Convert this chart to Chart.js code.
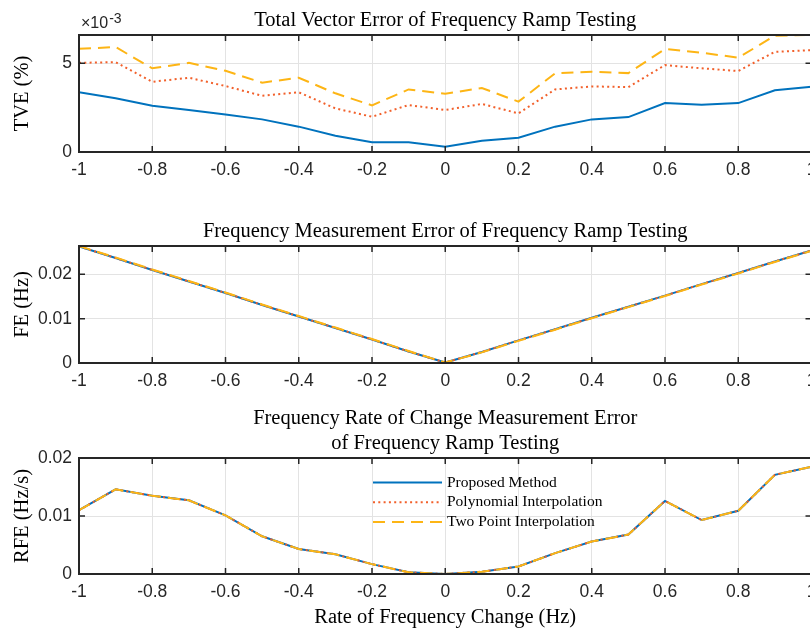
<!DOCTYPE html>
<html>
<head>
<meta charset="utf-8">
<script src="https://cdn.jsdelivr.net/npm/chart.js@4.4.1/dist/chart.umd.min.js"></script>
<style>
    html, body { margin: 0; padding: 0; background: #fff; overflow: hidden; }
    #wrap { position: relative; width: 810px; height: 630px; overflow: hidden; }
    #wrap canvas { position: absolute; left: 0; }
</style>
</head>
<body>
<div id="wrap">
    <canvas id="tveChart" width="830" height="187" style="top:0px"></canvas>
    <canvas id="feChart" width="830" height="198" style="top:200px"></canvas>
    <canvas id="rfeChart" width="830" height="230" style="top:400px"></canvas>
</div>
<script>
// rate of frequency change (Hz) on the x axis
const rateOfChange = [-1, -0.9, -0.8, -0.7, -0.6, -0.5, -0.4, -0.3, -0.2, -0.1, 0, 0.1, 0.2, 0.3, 0.4, 0.5, 0.6, 0.7, 0.8, 0.9, 1];
const xTicks = [-1, -0.8, -0.6, -0.4, -0.2, 0, 0.2, 0.4, 0.6, 0.8, 1];

// TVE (%)
const tveProposed   = [0.00337, 0.00303, 0.00261, 0.00237, 0.00212, 0.00184, 0.00143, 0.00092, 0.00055, 0.00055, 0.00030, 0.00064, 0.00081, 0.00143, 0.00184, 0.00197, 0.00276, 0.00267, 0.00276, 0.00348, 0.00368];
const tvePolynomial = [0.00503, 0.00507, 0.00396, 0.00419, 0.00372, 0.00317, 0.00337, 0.00246, 0.00199, 0.00265, 0.00237, 0.00271, 0.00218, 0.00353, 0.00370, 0.00366, 0.00490, 0.00472, 0.00457, 0.00565, 0.00575];
const tveTwoPoint   = [0.00582, 0.00592, 0.00472, 0.00503, 0.00458, 0.00391, 0.00419, 0.00331, 0.00263, 0.00353, 0.00329, 0.00361, 0.00284, 0.00444, 0.00453, 0.00445, 0.00581, 0.00560, 0.00532, 0.00656, 0.00661];
const tveTicks = [0, 0.005];

// FE (Hz)
const feProposed   = [0.0263, 0.0237, 0.0210, 0.0184, 0.0158, 0.0131, 0.0105, 0.0079, 0.0053, 0.0026, 0.0001, 0.0025, 0.0051, 0.0076, 0.0102, 0.0127, 0.0152, 0.0178, 0.0203, 0.0229, 0.0254];
const fePolynomial = [0.0263, 0.0237, 0.0210, 0.0184, 0.0158, 0.0131, 0.0105, 0.0079, 0.0053, 0.0026, 0.0001, 0.0025, 0.0051, 0.0076, 0.0102, 0.0127, 0.0152, 0.0178, 0.0203, 0.0229, 0.0254];
const feTwoPoint   = [0.0264, 0.0238, 0.0211, 0.0185, 0.0159, 0.0132, 0.0106, 0.0080, 0.0054, 0.0027, 0.0001, 0.0024, 0.0050, 0.0075, 0.0101, 0.0126, 0.0151, 0.0177, 0.0202, 0.0228, 0.0253];
const feTicks = [0, 0.01, 0.02];

// RFE (Hz/s)
const rfeProposed   = [0.0110, 0.0146, 0.0135, 0.0127, 0.0101, 0.0065, 0.0043, 0.0034, 0.0017, 0.0003, 0.0000, 0.0004, 0.0013, 0.0036, 0.0056, 0.0068, 0.0126, 0.0093, 0.0109, 0.0171, 0.0185];
const rfePolynomial = [0.0110, 0.0146, 0.0135, 0.0127, 0.0101, 0.0065, 0.0043, 0.0034, 0.0017, 0.0003, 0.0000, 0.0004, 0.0013, 0.0036, 0.0056, 0.0068, 0.0126, 0.0093, 0.0109, 0.0171, 0.0185];
const rfeTwoPoint   = [0.0110, 0.0146, 0.0135, 0.0127, 0.0101, 0.0065, 0.0043, 0.0034, 0.0017, 0.0003, 0.0000, 0.0004, 0.0013, 0.0036, 0.0056, 0.0068, 0.0126, 0.0093, 0.0109, 0.0171, 0.0185];
const rfeTicks = [0, 0.01, 0.02];

const seriesNames = ['Proposed Method', 'Polynomial Interpolation', 'Two Point Interpolation'];

const AXIS_COLOR = '#262626';
const SERIF = '"Liberation Serif", "Times New Roman", serif';
const SANS = '"Liberation Sans", Arial, sans-serif';

// MATLAB-like box, inward ticks, title, exponent and legend
const matlabAxes = {
    id: 'matlabAxes',
    afterDraw(chart, args, opts) {
        const { ctx, chartArea: a, scales } = chart;
        const tl = 6;
        ctx.save();
        ctx.strokeStyle = AXIS_COLOR;
        ctx.lineWidth = 1.5;
        ctx.beginPath();
        scales.x.ticks.forEach(t => {
            const px = scales.x.getPixelForValue(t.value);
            ctx.moveTo(px, a.bottom); ctx.lineTo(px, a.bottom - tl);
            ctx.moveTo(px, a.top); ctx.lineTo(px, a.top + tl);
        });
        scales.y.ticks.forEach(t => {
            const py = scales.y.getPixelForValue(t.value);
            ctx.moveTo(a.left, py); ctx.lineTo(a.left + tl, py);
            ctx.moveTo(a.right, py); ctx.lineTo(a.right - tl, py);
        });
        ctx.stroke();
        ctx.lineWidth = 2;
        ctx.strokeRect(a.left, a.top, a.right - a.left, a.bottom - a.top);

        // title lines
        const lines = opts.title || [];
        ctx.fillStyle = '#000';
        ctx.font = '20.5px ' + SERIF;
        ctx.textAlign = 'center';
        ctx.textBaseline = 'alphabetic';
        lines.forEach((s, i) => {
            ctx.fillText(s, (a.left + a.right) / 2, a.top - 9 - (lines.length - 1 - i) * 25);
        });

        // exponent label
        if (opts.exponent) {
            ctx.fillStyle = AXIS_COLOR;
            ctx.textAlign = 'left';
            ctx.font = '16px ' + SANS;
            ctx.fillText('\u00d710', a.left + 2, a.top - 7);
            const w = ctx.measureText('\u00d710').width;
            ctx.font = '14px ' + SANS;
            ctx.fillText(opts.exponent, a.left + 3 + w, a.top - 12);
        }

        // legend inside the axes
        if (opts.legend) {
            ctx.font = '15.5px ' + SERIF;
            ctx.textAlign = 'left';
            ctx.textBaseline = 'middle';
            chart.data.datasets.forEach((ds, i) => {
                const y = a.top + 24.5 + i * 19.7;
                ctx.strokeStyle = ds.borderColor;
                ctx.lineWidth = ds.borderWidth;
                ctx.setLineDash(ds.borderDash || []);
                ctx.beginPath();
                ctx.moveTo(a.left + 294, y);
                ctx.lineTo(a.left + 363, y);
                ctx.stroke();
                ctx.setLineDash([]);
                ctx.fillStyle = '#000';
                ctx.fillText(ds.label, a.left + 368, y);
            });
        }
        ctx.restore();
    }
};

function makeDatasets(a, b, c) {
    return [
        { label: seriesNames[0], data: a, borderColor: '#0072BD', borderWidth: 2, order: 3 },
        { label: seriesNames[1], data: b, borderColor: '#F2602B', borderWidth: 2, borderDash: [2, 3.3], order: 2 },
        { label: seriesNames[2], data: c, borderColor: '#FDB515', borderWidth: 2, borderDash: [12, 7], order: 1 }
    ].map(ds => Object.assign(ds, { pointRadius: 0, tension: 0, fill: false }));
}

function makeChart(id, cfg) {
    return new Chart(document.getElementById(id), {
        type: 'line',
        data: { labels: rateOfChange, datasets: cfg.datasets },
        options: {
            responsive: false,
            animation: false,
            events: [],
            layout: { padding: { top: cfg.padTop, right: 18.5, bottom: 0, left: 0 } },
            plugins: {
                legend: { display: false },
                tooltip: { enabled: false },
                matlabAxes: { title: cfg.title, exponent: cfg.exponent, legend: cfg.legend }
            },
            scales: {
                x: {
                    type: 'linear',
                    min: -1,
                    max: 1,
                    afterBuildTicks: s => { s.ticks = xTicks.map(v => ({ value: v })); },
                    afterFit: s => { s.height = cfg.xHeight; },
                    grid: { color: '#e3e3e3', drawTicks: false },
                    border: { display: false },
                    ticks: {
                        autoSkip: false,
                        maxRotation: 0,
                        padding: 8,
                        color: AXIS_COLOR,
                        font: { family: SANS, size: 17.5 },
                        callback: v => String(Number(v.toFixed(1)))
                    },
                    title: {
                        display: !!cfg.xTitle,
                        text: cfg.xTitle,
                        color: '#000',
                        font: { family: SERIF, size: 20.5 },
                        padding: { top: 0, bottom: 0 }
                    }
                },
                y: {
                    min: 0,
                    max: cfg.yMax,
                    afterBuildTicks: s => { s.ticks = cfg.yTicks.map(v => ({ value: v })); },
                    afterFit: s => { s.width = 79; },
                    grid: { color: '#e3e3e3', drawTicks: false },
                    border: { display: false },
                    ticks: {
                        padding: 7,
                        color: AXIS_COLOR,
                        font: { family: SANS, size: 17.5 },
                        callback: cfg.yFormat
                    },
                    title: {
                        display: true,
                        text: cfg.yTitle,
                        color: '#000',
                        font: { family: SERIF, size: 20.5 },
                        padding: { top: 10, bottom: 0 }
                    }
                }
            }
        },
        plugins: [matlabAxes]
    });
}

makeChart('tveChart', {
    datasets: makeDatasets(tveProposed, tvePolynomial, tveTwoPoint),
    padTop: 35, xHeight: 35,
    yMax: 0.0066, yTicks: tveTicks,
    yFormat: v => String(Math.round(v * 1000)),
    yTitle: 'TVE (%)',
    title: ['Total Vector Error of Frequency Ramp Testing'],
    exponent: '-3'
});

makeChart('feChart', {
    datasets: makeDatasets(feProposed, fePolynomial, feTwoPoint),
    padTop: 46, xHeight: 35,
    yMax: 0.0264, yTicks: feTicks,
    yFormat: v => String(Number(v.toFixed(2))),
    yTitle: 'FE (Hz)',
    title: ['Frequency Measurement Error of Frequency Ramp Testing']
});

makeChart('rfeChart', {
    datasets: makeDatasets(rfeProposed, rfePolynomial, rfeTwoPoint),
    padTop: 58, xHeight: 56,
    yMax: 0.02, yTicks: rfeTicks,
    yFormat: v => String(Number(v.toFixed(2))),
    yTitle: 'RFE (Hz/s)',
    xTitle: 'Rate of Frequency Change (Hz)',
    title: ['Frequency Rate of Change Measurement Error', 'of Frequency Ramp Testing'],
    legend: true
});
</script>
</body>
</html>
